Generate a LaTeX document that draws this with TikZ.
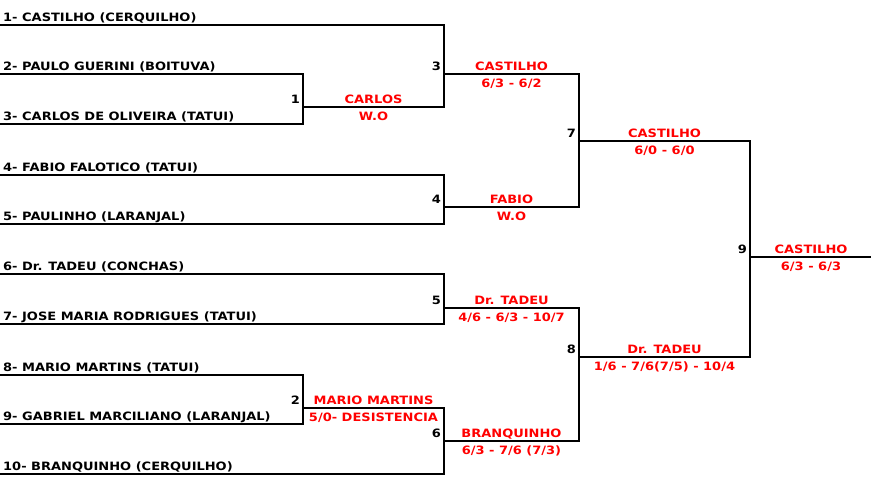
\documentclass[tikz,border=0pt]{standalone}
\usepackage{fontspec}
\setmainfont{DejaVu Sans}
\newfontfamily\bracketfont[FakeStretch=1.13]{DejaVu Sans}
\definecolor{scorered}{RGB}{255,0,0}
\begin{document}
\begin{tikzpicture}[x=1pt,y=-1pt,
  txt/.style={inner sep=0pt,font=\bracketfont\bfseries\fontsize{11.5}{13}\selectfont},
  player/.style={txt,anchor=base west},
  num/.style={txt,anchor=base east},
  win/.style={txt,anchor=base,text=scorered},
  bline/.style={line width=2pt,line join=miter,line cap=rect}]
\useasboundingbox (0,0) rectangle (871,488);
% player line starts
\coordinate (p1) at (0,25);
\coordinate (p2) at (0,74);
\coordinate (p3) at (0,124);
\coordinate (p4) at (0,175);
\coordinate (p5) at (0,224);
\coordinate (p6) at (0,274);
\coordinate (p7) at (0,324);
\coordinate (p8) at (0,375);
\coordinate (p9) at (0,424);
\coordinate (p10) at (0,474);
% match junctions
\coordinate (m1a) at (303,74);  \coordinate (m1b) at (303,124); \coordinate (m1o) at (303,107);
\coordinate (m3a) at (444,25);  \coordinate (m3b) at (444,107); \coordinate (m3o) at (444,74);
\coordinate (m4a) at (444,175); \coordinate (m4b) at (444,224); \coordinate (m4o) at (444,207);
\coordinate (m7a) at (579,74);  \coordinate (m7b) at (579,207); \coordinate (m7o) at (579,141);
\coordinate (m5a) at (444,274); \coordinate (m5b) at (444,324); \coordinate (m5o) at (444,308);
\coordinate (m2a) at (303,375); \coordinate (m2b) at (303,424); \coordinate (m2o) at (303,408);
\coordinate (m6a) at (444,408); \coordinate (m6b) at (444,474); \coordinate (m6o) at (444,441);
\coordinate (m8a) at (579,308); \coordinate (m8b) at (579,441); \coordinate (m8o) at (579,357);
\coordinate (m9a) at (750,141); \coordinate (m9b) at (750,357); \coordinate (m9o) at (750,257);
\coordinate (fin) at (871,257);
% bracket lines
\draw[bline] (p2) -- (m1a) -- (m1b) -- (p3);
\draw[bline] (p1) -- (m3a) -- (m3b) -- (m1o);
\draw[bline] (p4) -- (m4a) -- (m4b) -- (p5);
\draw[bline] (m3o) -- (m7a) -- (m7b) -- (m4o);
\draw[bline] (p6) -- (m5a) -- (m5b) -- (p7);
\draw[bline] (p8) -- (m2a) -- (m2b) -- (p9);
\draw[bline] (m2o) -- (m6a) -- (m6b) -- (p10);
\draw[bline] (m5o) -- (m8a) -- (m8b) -- (m6o);
\draw[bline] (m7o) -- (m9a) -- (m9b) -- (m8o);
\draw[bline] (m9o) -- (fin);
% player names
\node[player] (n1) at (3,21) {1- CASTILHO (CERQUILHO)};
\node[player] (n2) at (3,70) {2- PAULO GUERINI (BOITUVA)};
\node[player] (n3) at (3,120) {3- CARLOS DE OLIVEIRA (TATUI)};
\node[player] (n4) at (3,171) {4- FABIO FALOTICO (TATUI)};
\node[player] (n5) at (3,220) {5- PAULINHO (LARANJAL)};
\node[player] (n6) at (3,270) {6- Dr. TADEU (CONCHAS)};
\node[player] (n7) at (3,320) {7- JOSE MARIA RODRIGUES (TATUI)};
\node[player] (n8) at (3,371) {8- MARIO MARTINS (TATUI)};
\node[player] (n9) at (3,420) {9- GABRIEL MARCILIANO (LARANJAL)};
\node[player] (n10) at (3,470) {10- BRANQUINHO (CERQUILHO)};
% match numbers
\node[num] (g1) at (300,103) {1};
\node[num] (g2) at (300,404) {2};
\node[num] (g3) at (441,70) {3};
\node[num] (g4) at (441,203) {4};
\node[num] (g5) at (441,304) {5};
\node[num] (g6) at (441,437) {6};
\node[num] (g7) at (576,137) {7};
\node[num] (g8) at (576,353) {8};
\node[num] (g9) at (747,253) {9};
% winners and scores
\node[win] (w1) at (373.5,103) {CARLOS};
\node[win] (s1) at (373.5,120) {W.O};
\node[win] (w2) at (373.5,404) {MARIO MARTINS};
\node[win] (s2) at (373.5,421) {5/0- DESISTENCIA};
\node[win] (w3) at (511.5,70) {CASTILHO};
\node[win] (s3) at (511.5,87) {6/3 - 6/2};
\node[win] (w4) at (511.5,203) {FABIO};
\node[win] (s4) at (511.5,220) {W.O};
\node[win] (w5) at (511.5,304) {Dr. TADEU};
\node[win] (s5) at (511.5,321) {4/6 - 6/3 - 10/7};
\node[win] (w6) at (511.5,437) {BRANQUINHO};
\node[win] (s6) at (511.5,454) {6/3 - 7/6 (7/3)};
\node[win] (w7) at (664.5,137) {CASTILHO};
\node[win] (s7) at (664.5,154) {6/0 - 6/0};
\node[win] (w8) at (664.5,353) {Dr. TADEU};
\node[win] (s8) at (664.5,370) {1/6 - 7/6(7/5) - 10/4};
\node[win] (w9) at (811,253) {CASTILHO};
\node[win] (s9) at (811,270) {6/3 - 6/3};
\end{tikzpicture}
\end{document}
